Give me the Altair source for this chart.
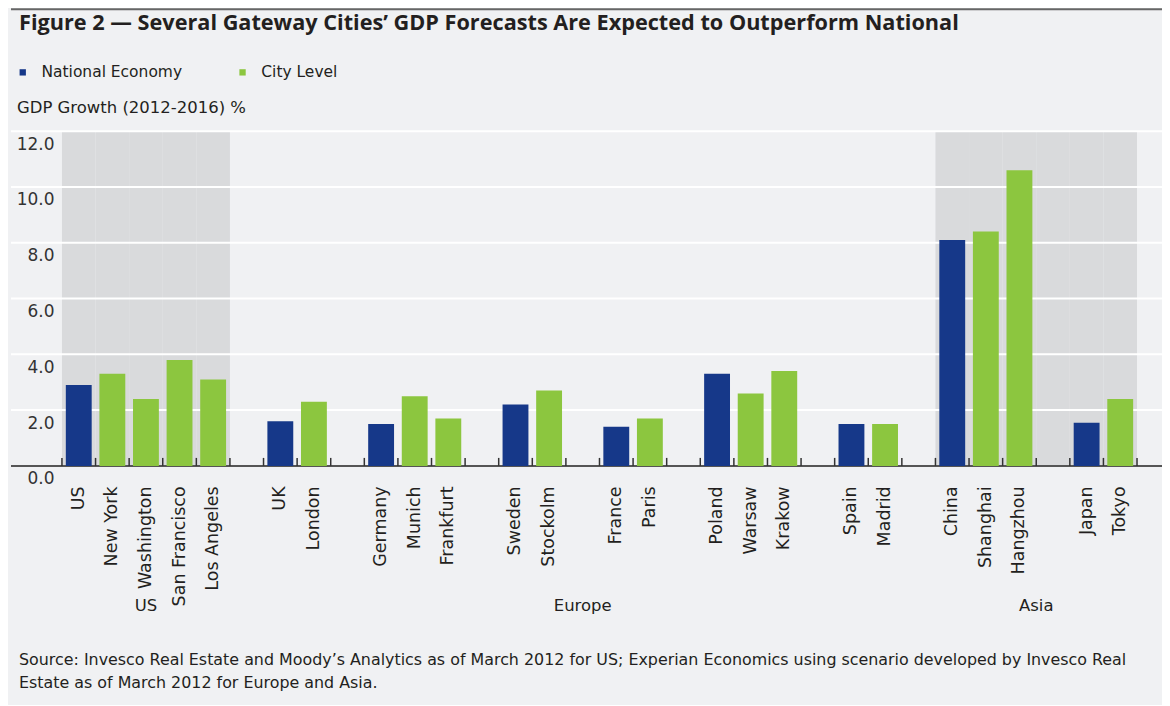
import altair as alt
import pandas as pd

# ---------------- data ----------------
slots = ["US", "New York", "Washington", "San Francisco", "Los Angeles", "_g1",
         "UK", "London", "_g2",
         "Germany", "Munich", "Frankfurt", "_g3",
         "Sweden", "Stockolm", "_g4",
         "France", "Paris", "_g5",
         "Poland", "Warsaw", "Krakow", "_g6",
         "Spain", "Madrid", "_g7",
         "China", "Shanghai", "Hangzhou", "_g8",
         "Japan", "Tokyo"]

bar_names = ["US", "New York", "Washington", "San Francisco", "Los Angeles",
             "UK", "London", "Germany", "Munich", "Frankfurt",
             "Sweden", "Stockolm", "France", "Paris",
             "Poland", "Warsaw", "Krakow", "Spain", "Madrid",
             "China", "Shanghai", "Hangzhou", "Japan", "Tokyo"]
bar_levels = ["National Economy", "City Level", "City Level", "City Level", "City Level",
              "National Economy", "City Level", "National Economy", "City Level", "City Level",
              "National Economy", "City Level", "National Economy", "City Level",
              "National Economy", "City Level", "City Level", "National Economy", "City Level",
              "National Economy", "City Level", "City Level", "National Economy", "City Level"]
bar_values = [2.9, 3.3, 2.4, 3.8, 3.1,
              1.6, 2.3, 1.5, 2.5, 1.7,
              2.2, 2.7, 1.4, 1.7,
              3.3, 2.6, 3.4, 1.5, 1.5,
              8.1, 8.4, 10.6, 1.55, 2.4]

series = ["National Economy", "City Level"]
series_colors = ["#163889", "#8cc63f"]

shaded_slots = ["US", "New York", "Washington", "San Francisco", "Los Angeles",
                "China", "Shanghai", "Hangzhou", "_g8", "Japan", "Tokyo"]

group_names_mid = ["US", "Europe"]
group_slots_mid = ["Washington", "_g4"]
group_names_end = ["Asia"]
group_slots_end = ["Hangzhou"]

y_ticks = [0, 2, 4, 6, 8, 10, 12]
grid_values = [2, 4, 6, 8, 10, 12]

title_text = "Figure 2 \u2014 Several Gateway Cities\u2019 GDP Forecasts Are Expected to Outperform National"
ytitle_text = "GDP Growth (2012-2016) %"
source_lines = [
    "Source: Invesco Real Estate and Moody\u2019s Analytics as of March 2012 for US; Experian Economics using scenario developed by Invesco Real",
    "Estate as of March 2012 for Europe and Asia.",
]

# ---------------- style ----------------
FONT = "DejaVu Sans"
TFONT = "Open Sans"
TEXT = "#231f20"
BG = "#f0f1f3"
SHADE = "#d9dadc"
W, H = 1152, 335

bars_df = pd.DataFrame({"slot": bar_names, "level": bar_levels, "value": bar_values})
shade_df = pd.DataFrame({"slot": shaded_slots})
grid_df = pd.DataFrame({"v": grid_values})
ticks_df = pd.DataFrame({"slot": slots})
last_df = pd.DataFrame({"slot": [slots[-1]]})
gmid_df = pd.DataFrame({"slot": group_slots_mid, "g": group_names_mid})
gend_df = pd.DataFrame({"slot": group_slots_end, "g": group_names_end})
one_df = pd.DataFrame({"v": [0]})

x_scale = alt.Scale(domain=slots, paddingInner=0, paddingOuter=0, range=[51, 1127])
y_scale = alt.Scale(domain=[0, 12], nice=False, zero=True)

x_axis = alt.Axis(title="", labelAngle=270, labelAlign="right", labelBaseline="middle",
                  labelPadding=20, ticks=False, tickSize=0, domain=False,
                  labelFontSize=17.5, labelFont=FONT, labelColor=TEXT,
                  labelOverlap=False, grid=False, labelLimit=300,
                  labelExpr="indexof(datum.label, '_g') == 0 ? '' : datum.label")
y_axis = alt.Axis(title="", values=y_ticks, format=".1f", grid=False, domain=False,
                  ticks=False, tickSize=0, labelFontSize=17, labelFont=FONT,
                  labelColor="#333333", labelAlign="right", labelBaseline="middle",
                  labelOffset=13, labelPadding=0, offset=-43)


def X(bp=None):
    if bp is None:
        return alt.X("slot:N", scale=x_scale, axis=x_axis, sort=slots)
    return alt.X("slot:N", scale=x_scale, axis=x_axis, sort=slots, bandPosition=bp)


shade = alt.Chart(shade_df).mark_rect(color=SHADE).encode(
    x=X(),
    y=alt.Y(datum=12, scale=y_scale, axis=y_axis),
    y2=alt.Y2(datum=0),
)

grid = alt.Chart(grid_df).mark_rule(color="white", strokeWidth=2).encode(
    y=alt.Y("v:Q", scale=y_scale, axis=y_axis),
    x=alt.value(0),
    x2=alt.value(W),
)

baseline = alt.Chart(one_df).mark_rule(color="#555555", strokeWidth=2).encode(
    y=alt.Y("v:Q", scale=y_scale, axis=y_axis),
    x=alt.value(0),
    x2=alt.value(W),
)

bars = alt.Chart(bars_df).mark_bar(width=alt.RelativeBandSize(0.77)).encode(
    x=X(),
    y=alt.Y("value:Q", scale=y_scale, axis=y_axis),
    color=alt.Color("level:N",
                    scale=alt.Scale(domain=series, range=series_colors),
                    legend=alt.Legend(title="", orient="none", legendX=4, legendY=-67,
                                      direction="horizontal", symbolType="square",
                                      symbolSize=40, symbolStrokeWidth=0,
                                      labelFontSize=15.5, labelFont=FONT, labelColor=TEXT,
                                      labelOffset=11, columnPadding=52, padding=0)),
)

ticks = alt.Chart(ticks_df).mark_rule(color="#333333", strokeWidth=1.5).encode(
    x=X(0), y=alt.value(H - 8), y2=alt.value(H))
ticks_last = alt.Chart(last_df).mark_rule(color="#333333", strokeWidth=1.5).encode(
    x=X(1), y=alt.value(H - 8), y2=alt.value(H))

glabel_mid = alt.Chart(gmid_df).mark_text(font=FONT, fontSize=16.5, color=TEXT,
                                          baseline="middle", align="center").encode(
    x=X(0.5), y=alt.value(H + 140), text="g:N")
glabel_end = alt.Chart(gend_df).mark_text(font=FONT, fontSize=16.5, color=TEXT,
                                          baseline="middle", align="center").encode(
    x=X(1), y=alt.value(H + 140), text="g:N")

top_line = alt.Chart(one_df).mark_rule(color="#666666", strokeWidth=2).encode(
    x=alt.value(0), x2=alt.value(W), y=alt.value(-122))

title = alt.Chart(one_df).mark_text(font=TFONT, fontSize=21.7, fontWeight="bold",
                                    color=TEXT, align="left",
                                    baseline="alphabetic").encode(
    x=alt.value(8), y=alt.value(-101), text=alt.value(title_text))

ytitle = alt.Chart(one_df).mark_text(font=FONT, fontSize=16.5, color=TEXT,
                                     align="left", baseline="alphabetic").encode(
    x=alt.value(6), y=alt.value(-18), text=alt.value(ytitle_text))

source = alt.Chart(one_df).mark_text(font=FONT, fontSize=15.9, color=TEXT,
                                     align="left", baseline="alphabetic",
                                     lineHeight=23).encode(
    x=alt.value(8), y=alt.value(534), text=alt.value(source_lines))

chart = alt.layer(shade, grid, baseline, bars, ticks, ticks_last, glabel_mid, glabel_end,
                  top_line, title, ytitle, source).properties(
    width=W, height=H,
    autosize=alt.AutoSizeParams(type="none"),
    padding={"left": 3, "top": 123, "right": 0, "bottom": 239},
    background=BG,
).configure_view(stroke="transparent")

chart.save("out.html", embed_options={"renderer": "svg", "actions": False})
